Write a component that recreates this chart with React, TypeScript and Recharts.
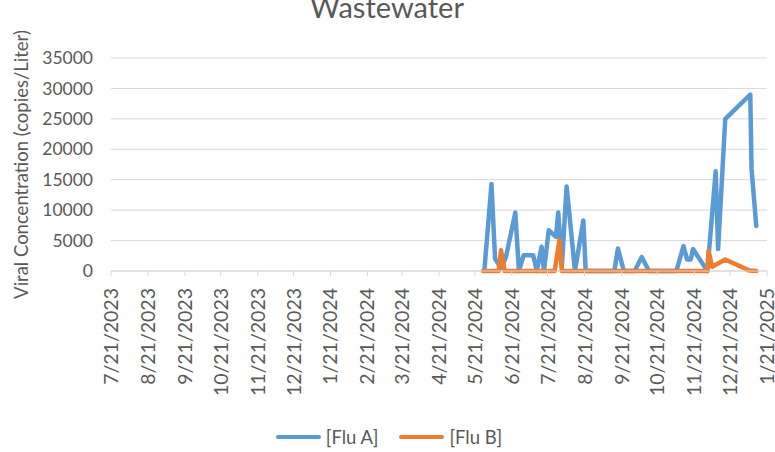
import React from "react";
import { CartesianGrid, Label, Legend, Line, LineChart, XAxis, YAxis } from "recharts";

document.body.style.margin = "0";

const fluADates = [
  "2024-05-29", "2024-06-04", "2024-06-07", "2024-06-12", "2024-06-16", "2024-06-24",
  "2024-06-27", "2024-07-01", "2024-07-09", "2024-07-12", "2024-07-16", "2024-07-18",
  "2024-07-22", "2024-07-28", "2024-07-30", "2024-08-02", "2024-08-06", "2024-08-13",
  "2024-08-20", "2024-08-22", "2024-09-15", "2024-09-18", "2024-09-23", "2024-10-02",
  "2024-10-08", "2024-10-14", "2024-11-06", "2024-11-12", "2024-11-15", "2024-11-18",
  "2024-11-20", "2024-12-02", "2024-12-09", "2024-12-11", "2024-12-17", "2025-01-07",
  "2025-01-08", "2025-01-12"
];
const fluAValues = [
  0, 14300, 2000, 500, 2200, 9600,
  0, 2600, 2600, 0, 4000, 0,
  6700, 5600, 9600, 800, 13900, 0,
  8300, 0, 0, 3700, 0, 0,
  2300, 0, 0, 4100, 1900, 1900,
  3600, 0, 16400, 3600, 25000, 29000,
  16900, 7400
];

const fluBDates = [
  "2024-05-28", "2024-06-10", "2024-06-12", "2024-06-15", "2024-07-27", "2024-07-31",
  "2024-08-02", "2024-12-02", "2024-12-03", "2024-12-06", "2024-12-17", "2025-01-06",
  "2025-01-12"
];
const fluBValues = [0, 0, 3400, 0, 0, 5100, 0, 0, 3300, 700, 1900, 100, 0];

const xTickLabels = [
  "7/21/2023", "8/21/2023", "9/21/2023", "10/21/2023", "11/21/2023", "12/21/2023",
  "1/21/2024", "2/21/2024", "3/21/2024", "4/21/2024", "5/21/2024", "6/21/2024",
  "7/21/2024", "8/21/2024", "9/21/2024", "10/21/2024", "11/21/2024", "12/21/2024",
  "1/21/2025"
];
const yTicks = [0, 5000, 10000, 15000, 20000, 25000, 30000, 35000];

const FONT = 'Lato, "Liberation Sans", sans-serif';
const TEXT = "#595959";
const GRID = "#d9d9d9";

const isoTime = (s: string) => {
  const [y, m, d] = s.split("-").map(Number);
  return Date.UTC(y, m - 1, d);
};
const usTime = (s: string) => {
  const [m, d, y] = s.split("/").map(Number);
  return Date.UTC(y, m - 1, d);
};
const fmtDate = (t: number) => {
  const d = new Date(t);
  return `${d.getUTCMonth() + 1}/${d.getUTCDate()}/${d.getUTCFullYear()}`;
};

const xTicks = xTickLabels.map(usTime);

// merge both series onto one time axis, gaps bridged with connectNulls
const byTime = new Map<number, { t: number; fluA?: number; fluB?: number }>();
fluADates.forEach((s, i) => {
  const t = isoTime(s);
  byTime.set(t, { ...(byTime.get(t) || { t }), fluA: fluAValues[i] });
});
fluBDates.forEach((s, i) => {
  const t = isoTime(s);
  byTime.set(t, { ...(byTime.get(t) || { t }), fluB: fluBValues[i] });
});
const data = Array.from(byTime.values()).sort((a, b) => a.t - b.t);

function DateTick({ x, y, payload }: any) {
  return (
    <g transform={`translate(${x},${y})`}>
      <text
        transform="rotate(-90)"
        textAnchor="end"
        dy="0.36em"
        fill={TEXT}
        fontSize={19.5}
        fontFamily={FONT}
      >
        {fmtDate(payload.value)}
      </text>
    </g>
  );
}

function AxisTitle({ viewBox }: any) {
  const cy = viewBox.y + viewBox.height / 2;
  return (
    <text
      x={28}
      y={cy}
      transform={`rotate(-90 28 ${cy})`}
      textAnchor="middle"
      fill={TEXT}
      fontSize={18.5}
      fontFamily={FONT}
    >
      Viral Concentration (copies/Liter)
    </text>
  );
}

function LegendRow({ payload }: any) {
  return (
    <div
      style={{
        display: "flex",
        justifyContent: "center",
        alignItems: "center",
        height: 30,
        fontFamily: FONT,
        fontSize: 18.5,
        color: TEXT,
        paddingLeft: 3
      }}
    >
      {(payload || []).map((item: any, i: number) => (
        <div key={i} style={{ display: "flex", alignItems: "center", marginLeft: i ? 21 : 0 }}>
          <span
            style={{
              display: "inline-block",
              width: 45,
              height: 4.5,
              borderRadius: 2,
              background: item.color,
              marginRight: 5
            }}
          />
          <span>{item.value}</span>
        </div>
      ))}
    </div>
  );
}

export default function App() {
  return (
    <div style={{ position: "relative", width: 775, height: 452, background: "#fff" }}>
      <LineChart width={775} height={452} data={data} margin={{ top: 58, right: 8, bottom: 0, left: 0 }}>
        <CartesianGrid horizontal vertical={false} stroke={GRID} strokeWidth={1} />
        <XAxis
          type="number"
          dataKey="t"
          domain={[xTicks[0], xTicks[xTicks.length - 1]]}
          ticks={xTicks}
          interval={0}
          height={151}
          tickSize={5}
          tickMargin={12}
          stroke={GRID}
          tick={<DateTick />}
        />
        <YAxis
          type="number"
          domain={[0, 35000]}
          ticks={yTicks}
          interval={0}
          width={111}
          axisLine={false}
          tickLine={false}
          tickSize={8}
          tickMargin={10}
          tick={{ fill: TEXT, fontSize: 17.5, fontFamily: FONT }}
        >
          <Label content={<AxisTitle />} />
        </YAxis>
        <Legend
          verticalAlign="bottom"
          height={30}
          wrapperStyle={{ left: 0, width: 775, bottom: 0 }}
          content={<LegendRow />}
        />
        <Line
          name="[Flu A]"
          dataKey="fluA"
          stroke="#5B9BD5"
          strokeWidth={4.5}
          strokeLinejoin="round"
          strokeLinecap="round"
          dot={false}
          activeDot={false}
          connectNulls
          isAnimationActive={false}
        />
        <Line
          name="[Flu B]"
          dataKey="fluB"
          stroke="#ED7D31"
          strokeWidth={4.5}
          strokeLinejoin="round"
          strokeLinecap="round"
          dot={false}
          activeDot={false}
          connectNulls
          isAnimationActive={false}
        />
      </LineChart>
      <svg width={775} height={40} style={{ position: "absolute", left: 0, top: 0, pointerEvents: "none" }}>
        <text x={387} y={18} textAnchor="middle" fill={TEXT} fontSize={29} fontFamily={FONT}>
          Wastewater
        </text>
      </svg>
    </div>
  );
}
